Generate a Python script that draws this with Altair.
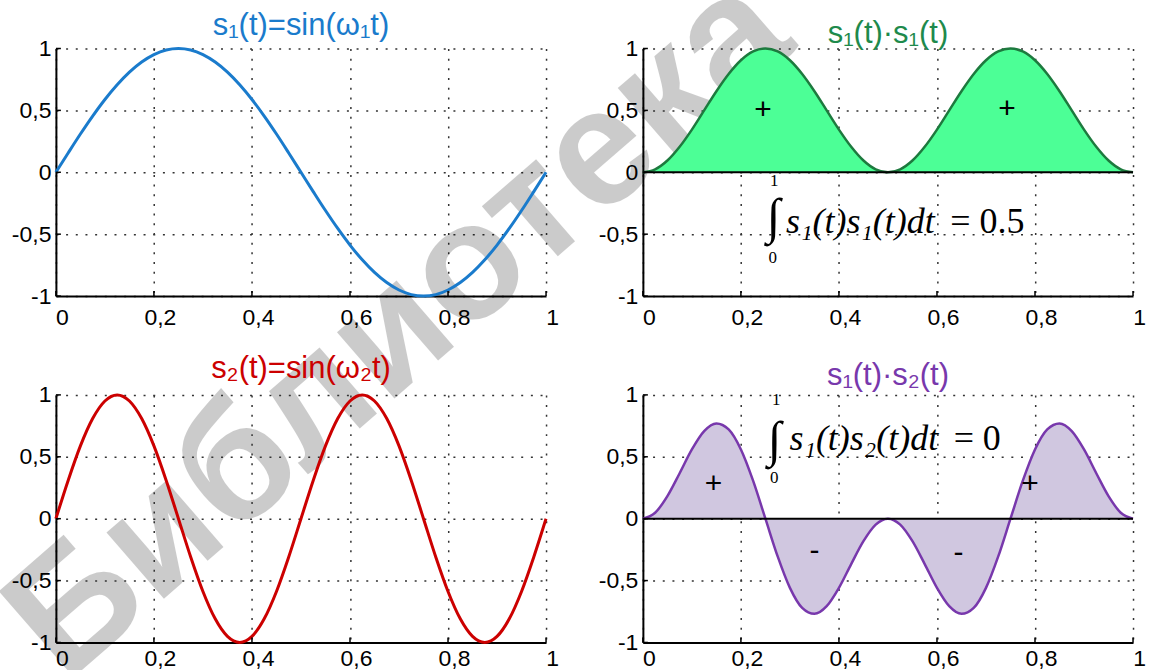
import altair as alt
import pandas as pd

# Sampled time axis and signal values (one period of s1, two periods of s2)
t = [0.0, 0.025, 0.05, 0.075, 0.1, 0.125, 0.15, 0.175, 0.2, 0.225,
     0.25, 0.275, 0.3, 0.325, 0.35, 0.375, 0.4, 0.425, 0.45, 0.475,
     0.5, 0.525, 0.55, 0.575, 0.6, 0.625, 0.65, 0.675, 0.7, 0.725,
     0.75, 0.775, 0.8, 0.825, 0.85, 0.875, 0.9, 0.925, 0.95, 0.975, 1.0]

s1 = [0.0, 0.156, 0.309, 0.454, 0.588, 0.707, 0.809, 0.891, 0.951, 0.988,
      1.0, 0.988, 0.951, 0.891, 0.809, 0.707, 0.588, 0.454, 0.309, 0.156,
      0.0, -0.156, -0.309, -0.454, -0.588, -0.707, -0.809, -0.891, -0.951, -0.988,
      -1.0, -0.988, -0.951, -0.891, -0.809, -0.707, -0.588, -0.454, -0.309, -0.156, 0.0]

s2 = [0.0, 0.309, 0.588, 0.809, 0.951, 1.0, 0.951, 0.809, 0.588, 0.309,
      0.0, -0.309, -0.588, -0.809, -0.951, -1.0, -0.951, -0.809, -0.588, -0.309,
      0.0, 0.309, 0.588, 0.809, 0.951, 1.0, 0.951, 0.809, 0.588, 0.309,
      0.0, -0.309, -0.588, -0.809, -0.951, -1.0, -0.951, -0.809, -0.588, -0.309, 0.0]

s1_s1 = [0.0, 0.024, 0.095, 0.206, 0.345, 0.5, 0.655, 0.794, 0.905, 0.976,
         1.0, 0.976, 0.905, 0.794, 0.655, 0.5, 0.345, 0.206, 0.095, 0.024,
         0.0, 0.024, 0.095, 0.206, 0.345, 0.5, 0.655, 0.794, 0.905, 0.976,
         1.0, 0.976, 0.905, 0.794, 0.655, 0.5, 0.345, 0.206, 0.095, 0.024, 0.0]

s1_s2 = [0.0, 0.048, 0.182, 0.367, 0.559, 0.707, 0.769, 0.721, 0.559, 0.305,
         0.0, -0.305, -0.559, -0.721, -0.769, -0.707, -0.559, -0.367, -0.182, -0.048,
         0.0, -0.048, -0.182, -0.367, -0.559, -0.707, -0.769, -0.721, -0.559, -0.305,
         0.0, 0.305, 0.559, 0.721, 0.769, 0.707, 0.559, 0.367, 0.182, 0.048, 0.0]

x_ticks = [0, 0.2, 0.4, 0.6, 0.8, 1]
y_ticks = [-1, -0.5, 0, 0.5, 1]

titles = ["s₁(t)=sin(ω₁t)", "s₁(t)·s₁(t)", "s₂(t)=sin(ω₂t)", "s₁(t)·s₂(t)"]

# sign markers on the product lobes
signs_11_t = [0.245, 0.743]
signs_11_v = [0.5, 0.51]
signs_11 = ["+", "+"]
signs_12_t = [0.144, 0.35, 0.644, 0.79]
signs_12_v = [0.278, -0.265, -0.28, 0.278]
signs_12 = ["+", "-", "-", "+"]

BLUE, RED = "#1a7bcc", "#cc0000"
GREEN_FILL, GREEN_LINE, GREEN_TXT = "#4cff96", "#1d7a3e", "#1e8a4c"
LILAC_FILL, PURPLE = "#d0c7e0", "#7838ac"

curves = pd.DataFrame({"t": t, "s1": s1, "s2": s2, "s11": s1_s1, "s12": s1_s2})

W, H = 491, 248
comma = "replace(toString(datum.value), '.', ',')"
x_scale = alt.Scale(domain=[0, 1], nice=False, zero=False)
y_scale = alt.Scale(domain=[-1, 1], nice=False, zero=False)

# one axis definition per panel row, shared by every layer so they merge into one axis
x_axes = {
    "top": alt.Axis(values=x_ticks, labelExpr=comma, labelOffset=6,
                    labelPadding=10, labelFlush=False, title=None),
    "bottom": alt.Axis(values=x_ticks, labelExpr=comma, labelOffset=6,
                       labelPadding=5, labelFlush=False, title=None),
}
y_axis = alt.Axis(values=y_ticks, labelExpr=comma, labelPadding=5,
                  labelFlush=False, title=None)


def make_panel(row, layer_fns):
    def xq(field):
        return alt.X(f"{field}:Q", scale=x_scale, axis=x_axes[row])

    def yq(field):
        return alt.Y(f"{field}:Q", scale=y_scale, axis=y_axis)

    def texts(tv, vv, labels, **style):
        df = pd.DataFrame({"t": tv, "v": vv, "txt": labels})
        return alt.Chart(df).mark_text(**style).encode(x=xq("t"), y=yq("v"), text="txt:N")

    def zero_rule():
        return alt.Chart(pd.DataFrame({"z": [0]})).mark_rule(color="black", strokeWidth=2).encode(y=yq("z"))

    xt = alt.Chart(pd.DataFrame({"v": x_ticks})).mark_rule(color="black", strokeWidth=1.5).encode(
        x=xq("v"), y=alt.value(H), y2=alt.value(H - 5))
    yt = alt.Chart(pd.DataFrame({"v": y_ticks})).mark_rule(color="black", strokeWidth=1.5).encode(
        y=yq("v"), x=alt.value(0), x2=alt.value(5))

    layers = layer_fns(xq, yq, texts, zero_rule) + [xt, yt]
    return alt.layer(*layers).properties(width=W, height=H)


def heading(text, color, lift):
    return alt.Chart(pd.DataFrame({"txt": [text]})).mark_text(
        font="Liberation Sans", fontSize=31, color=color, align="center", baseline="alphabetic"
    ).encode(text="txt:N", x=alt.value(W / 2), y=alt.value(-lift))


base = alt.Chart(curves)
serif = "Liberation Serif"

watermark = alt.Chart(pd.DataFrame({"w": ["Библиотека"]})).mark_text(
    font="Liberation Sans", fontWeight="bold", fontSize=166, angle=319,
    color="#000000", opacity=0.2, align="center", baseline="middle"
).encode(text="w:N", x=alt.value(344), y=alt.value(280))

tl = make_panel("top", lambda xq, yq, texts, zr: [
    watermark,
    base.mark_line(color=BLUE, strokeWidth=3, interpolate="monotone").encode(x=xq("t"), y=yq("s1")),
    heading(titles[0], BLUE, 14),
])

tr = make_panel("top", lambda xq, yq, texts, zr: [
    base.mark_area(color=GREEN_FILL, opacity=1, interpolate="monotone").encode(
        x=xq("t"), y=yq("s11"), y2=alt.datum(0)),
    base.mark_line(color=GREEN_LINE, strokeWidth=2.5, interpolate="monotone").encode(x=xq("t"), y=yq("s11")),
    zr(),
    texts(signs_11_t, signs_11_v, signs_11, fontSize=30, font="Liberation Sans",
          color="black", align="center", baseline="middle"),
    texts([0.266], [-0.373], ["∫"], font=serif, fontSize=50, color="black", align="center", baseline="middle"),
    texts([0.268, 0.265], [-0.07, -0.69], ["1", "0"], font=serif, fontSize=17, color="black",
          align="center", baseline="middle"),
    texts([0.292], [-0.494], ["s₁(t)s₁(t)dt"], font=serif, fontStyle="italic", fontSize=36,
          color="black", align="left", baseline="alphabetic"),
    texts([0.627], [-0.494], ["= 0.5"], font=serif, fontSize=36, color="black", align="left",
          baseline="alphabetic"),
    heading(titles[1], GREEN_TXT, 6),
])

bl = make_panel("bottom", lambda xq, yq, texts, zr: [
    base.mark_line(color=RED, strokeWidth=3, interpolate="monotone").encode(x=xq("t"), y=yq("s2")),
    heading(titles[2], RED, 17),
])

br = make_panel("bottom", lambda xq, yq, texts, zr: [
    base.mark_area(color=LILAC_FILL, opacity=1, interpolate="monotone").encode(
        x=xq("t"), y=yq("s12"), y2=alt.datum(0)),
    base.mark_line(color=PURPLE, strokeWidth=2.5, interpolate="monotone").encode(x=xq("t"), y=yq("s12")),
    zr(),
    texts(signs_12_t, signs_12_v, signs_12, fontSize=30, font="Liberation Sans",
          color="black", align="center", baseline="middle"),
    texts([0.268], [0.627], ["∫"], font=serif, fontSize=50, color="black", align="center", baseline="middle"),
    texts([0.272, 0.268], [0.955, 0.327], ["1", "0"], font=serif, fontSize=17, color="black",
          align="center", baseline="middle"),
    texts([0.299], [0.554], ["s₁(t)s₂(t)dt"], font=serif, fontStyle="italic", fontSize=36,
          color="black", align="left", baseline="alphabetic"),
    texts([0.634], [0.554], ["= 0"], font=serif, fontSize=36, color="black", align="left",
          baseline="alphabetic"),
    heading(titles[3], PURPLE, 10),
])

chart = alt.ConcatChart(
    concat=[tl, tr, bl, br], columns=2,
    spacing={"row": 99, "column": 97}, bounds="flush",
    padding={"left": -22, "top": -54, "right": 3, "bottom": -40},
    background="white",
).configure_view(stroke=None).configure_axis(
    domainColor="black", domainWidth=2, ticks=False,
    labelFont="Liberation Sans", labelFontSize=23, labelColor="black", labelOverlap=False,
    grid=True, gridColor="#333333", gridDash=[2, 7.7], gridWidth=1.5,
)

chart.save("out.html", embed_options={"renderer": "svg", "actions": False})
